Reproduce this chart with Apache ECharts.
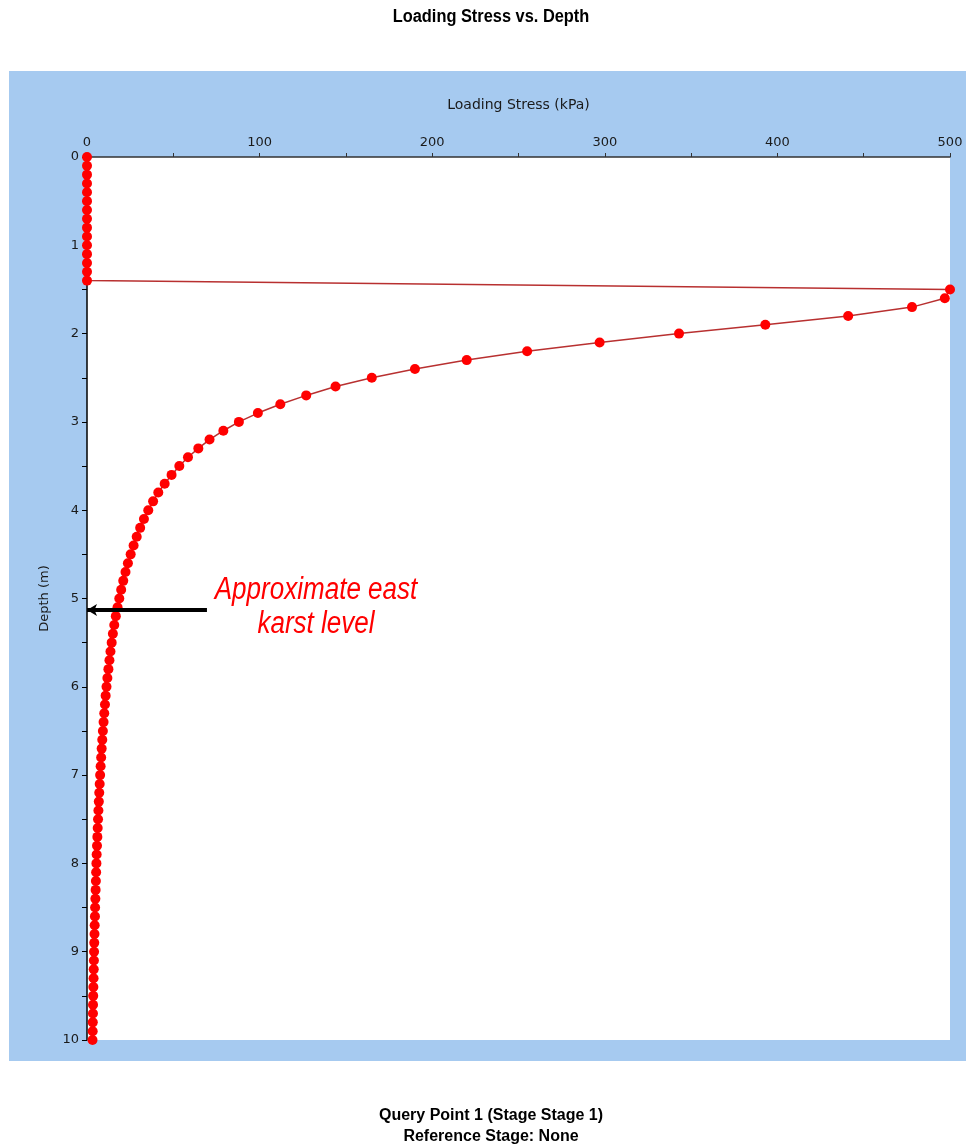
<!DOCTYPE html>
<html>
<head>
<meta charset="utf-8">
<script src="https://cdn.jsdelivr.net/npm/echarts@6/dist/echarts.min.js"></script>
<style>
html,body{margin:0;padding:0;background:#fff;}
#chart{width:966px;height:1146px;}
</style>
</head>
<body>
<div id="chart"></div>
<script>
// Depth (m) of each query point
var depths = [
  0.0,0.1,0.2,0.3,0.4,0.5,0.6,0.7,0.8,0.9,
  1.0,1.1,1.2,1.3,1.4,1.5,1.6,1.7,1.8,1.9,
  2.0,2.1,2.2,2.3,2.4,2.5,2.6,2.7,2.8,2.9,
  3.0,3.1,3.2,3.3,3.4,3.5,3.6,3.7,3.8,3.9,
  4.0,4.1,4.2,4.3,4.4,4.5,4.6,4.7,4.8,4.9,
  5.0,5.1,5.2,5.3,5.4,5.5,5.6,5.7,5.8,5.9,
  6.0,6.1,6.2,6.3,6.4,6.5,6.6,6.7,6.8,6.9,
  7.0,7.1,7.2,7.3,7.4,7.5,7.6,7.7,7.8,7.9,
  8.0,8.1,8.2,8.3,8.4,8.5,8.6,8.7,8.8,8.9,
  9.0,9.1,9.2,9.3,9.4,9.5,9.6,9.7,9.8,9.9,
  10.0
];
// Loading stress (kPa) at each depth
var stress = [
  0,0,0,0,0,0,0,0,0,0,
  0,0,0,0,0,500,497,478,441,393,
  343,297,255,220,190,165,144,127,112,99,
  88,79,71,64.5,58.5,53.5,49,45,41.3,38.3,
  35.5,33,30.8,28.8,27,25.3,23.7,22.3,21,19.8,
  18.7,17.7,16.7,15.8,15,14.3,13.6,13,12.4,11.8,
  11.3,10.8,10.4,10,9.6,9.2,8.85,8.5,8.2,7.9,
  7.6,7.35,7.1,6.85,6.6,6.4,6.2,6.0,5.8,5.6,
  5.45,5.3,5.15,5.0,4.85,4.7,4.6,4.45,4.35,4.2,
  4.1,4.0,3.9,3.8,3.7,3.6,3.5,3.45,3.35,3.3,
  3.2
];
// Annotation arrow: from stress 69.5 kPa to 0 at depth 5.13 m
var arrowDepth = 5.13;
var arrowFrom = 69.5;
var arrowTo = 0;

var titleText = 'Loading Stress vs. Depth';
var xName = 'Loading Stress (kPa)';
var yName = 'Depth (m)';
var footer1 = 'Query Point 1 (Stage Stage 1)';
var footer2 = 'Reference Stage: None';
var noteLines = ['Approximate east', 'karst level'];

var pts = depths.map(function(d, i){ return [stress[i], d]; });

var chart = echarts.init(document.getElementById('chart'), null, {renderer:'canvas'});
var axisTxt = {color:'#1a1a1a', fontFamily:'DejaVu Sans', fontSize:13};
chart.setOption({
  animation:false,
  backgroundColor:'#ffffff',
  graphic:[
    {type:'rect', z:-10, shape:{x:9, y:71, width:957, height:990}, style:{fill:'#A6CAF0'}},
    {type:'text', x:491, y:17, originX:0, originY:0, scaleX:0.91,
      style:{text:titleText, font:'bold 18px "Liberation Sans", sans-serif', fill:'#000', align:'center', verticalAlign:'middle'}},
    {type:'text', x:491, y:1116, style:{text:footer1, font:'bold 16px "Liberation Sans", sans-serif', fill:'#000', align:'center', verticalAlign:'middle'}},
    {type:'text', x:491, y:1137, style:{text:footer2, font:'bold 16px "Liberation Sans", sans-serif', fill:'#000', align:'center', verticalAlign:'middle'}},
    {type:'text', x:316, y:607, z:50, originX:0, originY:0, scaleX:0.84,
      style:{text:noteLines.join('\n'), font:'italic 31px "Liberation Sans", sans-serif', fill:'#FF0000', align:'center', verticalAlign:'middle', lineHeight:34}}
  ],
  grid:{left:87, top:157, width:863, height:883, show:true, backgroundColor:'#ffffff', borderWidth:0},
  xAxis:{
    type:'value', position:'top', min:0, max:500, interval:100,
    name:xName, nameLocation:'middle', nameGap:45,
    nameTextStyle:{color:'#1a1a1a', fontFamily:'DejaVu Sans', fontSize:14},
    axisLine:{show:true, onZero:false, lineStyle:{color:'#333', width:1.5}},
    axisTick:{show:true, length:4, lineStyle:{color:'#333'}},
    minorTick:{show:true, splitNumber:2, length:4, lineStyle:{color:'#333'}},
    axisLabel:Object.assign({margin:8}, axisTxt),
    splitLine:{show:false}
  },
  yAxis:{
    type:'value', inverse:true, min:0, max:10, interval:1,
    name:yName, nameLocation:'middle', nameGap:36, nameRotate:90,
    nameTextStyle:{color:'#1a1a1a', fontFamily:'DejaVu Sans', fontSize:13},
    axisLine:{show:true, onZero:false, lineStyle:{color:'#000', width:1.5}},
    axisTick:{show:true, length:5, lineStyle:{color:'#000'}},
    minorTick:{show:true, splitNumber:2, length:5, lineStyle:{color:'#000'}},
    axisLabel:Object.assign({margin:8}, axisTxt),
    splitLine:{show:false}
  },
  series:[
    {
      type:'line', data:pts, symbol:'circle', symbolSize:10, clip:false,
      lineStyle:{color:'#B83030', width:1.5},
      itemStyle:{color:'#FF0000', borderColor:'#FF0000', borderWidth:0},
      z:5,
      markLine:{
        silent:true, symbol:['none','arrow'], symbolSize:[9,10], z:20,
        label:{show:false},
        lineStyle:{color:'#000', width:4, type:'solid'},
        data:[[{coord:[arrowFrom, arrowDepth]}, {coord:[arrowTo, arrowDepth]}]]
      }
    }
  ]
});
</script>
</body>
</html>
